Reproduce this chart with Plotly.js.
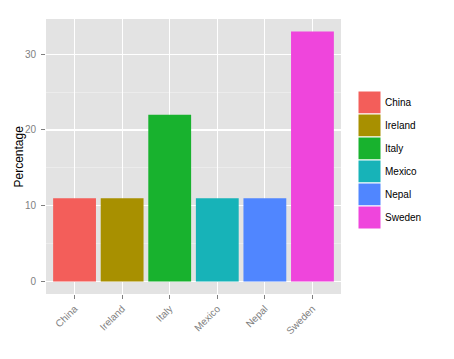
<!DOCTYPE html>
<html>
<head>
<meta charset="utf-8">
<script src="https://cdn.plot.ly/plotly-3.0.1.min.js"></script>
<style>html,body{margin:0;padding:0;background:#fff;}#chart{width:454px;height:359px;}</style>
</head>
<body>
<div id="chart"></div>
<script>
const countries = ["China", "Ireland", "Italy", "Mexico", "Nepal", "Sweden"];
const percentages = [11, 11, 22, 11, 11, 33];
const colors = ["#F35E5A", "#A89000", "#18B22E", "#17B3B8", "#5086FF", "#EF45DC"];
const yTicks = [0, 10, 20, 30];

const W = 454, H = 359;
const m = {l: 46, r: 113, t: 19, b: 65};
const pw = W - m.l - m.r, ph = H - m.t - m.b;

const trace = {
  type: "bar",
  x: countries,
  y: percentages,
  width: 0.9,
  marker: {color: colors, line: {width: 0}},
  showlegend: false,
  hoverinfo: "x+y"
};

// custom ggplot-like legend
const shapes = [];
const annotations = [];
const keyTop = 91, keyH = 23, keyL = 358, keyW = 23;
countries.forEach((c, i) => {
  const y0 = keyTop + i * keyH;
  shapes.push({
    type: "rect", xref: "paper", yref: "paper",
    x0: (keyL - m.l) / pw, x1: (keyL + keyW - m.l) / pw,
    y0: 1 - (y0 + keyH - m.t) / ph, y1: 1 - (y0 - m.t) / ph,
    fillcolor: colors[i], line: {color: "#ffffff", width: 1}, layer: "above"
  });
  annotations.push({
    xref: "paper", yref: "paper",
    x: (keyL + keyW + 2 - m.l) / pw, y: 1 - (y0 + keyH / 2 - m.t) / ph,
    xanchor: "left", yanchor: "middle", showarrow: false,
    text: c, font: {family: "Liberation Sans, Arial, sans-serif", size: 10, color: "#000"}
  });
});
annotations.push({
  xref: "paper", yref: "paper",
  x: (18 - m.l) / pw, y: 0.5, textangle: -90,
  xanchor: "center", yanchor: "middle", showarrow: false,
  text: "Percentage", font: {family: "Liberation Sans, Arial, sans-serif", size: 12, color: "#000"}
});

const layout = {
  width: W, height: H,
  margin: m,
  paper_bgcolor: "#ffffff",
  plot_bgcolor: "#E3E3E3",
  font: {family: "Liberation Sans, Arial, sans-serif", size: 10, color: "#7F7F7F"},
  bargap: 0.1,
  xaxis: {
    type: "category",
    range: [-0.6, 5.6],
    showgrid: true, gridcolor: "#ffffff", gridwidth: 1.2,
    zeroline: false, showline: false,
    ticks: "outside", ticklen: 4, tickcolor: "#7F7F7F", tickwidth: 1,
    tickangle: -45,
    tickfont: {size: 10, color: "#7F7F7F"},
    fixedrange: true
  },
  yaxis: {
    range: [-1.65, 34.65],
    tickvals: yTicks,
    ticktext: yTicks.map(String),
    showgrid: true, gridcolor: "#ffffff", gridwidth: 1.2,
    minor: {dtick: 5, tick0: 0, showgrid: true, gridcolor: "#F2F2F2", gridwidth: 0.6, ticks: ""},
    zeroline: false, showline: false,
    ticks: "outside", ticklen: 4, tickcolor: "#7F7F7F", tickwidth: 1,
    ticklabelstandoff: 3,
    tickfont: {size: 10, color: "#7F7F7F"},
    fixedrange: true
  },
  shapes: shapes,
  annotations: annotations
};

Plotly.newPlot("chart", [trace], layout, {displayModeBar: false, staticPlot: true});
</script>
</body>
</html>
